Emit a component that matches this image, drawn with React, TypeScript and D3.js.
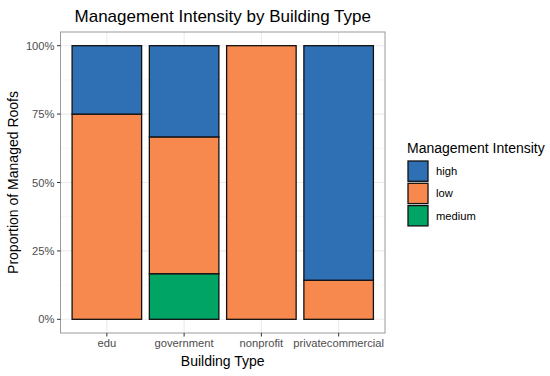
import { useEffect, useRef } from 'react';
import * as d3 from 'd3';

const buildingTypes = ['edu', 'government', 'nonprofit', 'privatecommercial'];
const intensityLevels = ['high', 'low', 'medium'];
// counts of managed roofs per building type and intensity
const highCounts = [1, 2, 0, 6];
const lowCounts = [3, 3, 4, 1];
const mediumCounts = [0, 1, 0, 0];
const yTicks = [0, 0.25, 0.5, 0.75, 1];
const yMinorTicks = [0.125, 0.375, 0.625, 0.875];

const colors: Record<string, string> = {
  high: '#2F6FB3',
  low: '#F7894F',
  medium: '#00A565',
};

const W = 550;
const H = 376;
const FONT = '"Liberation Sans", Arial, Helvetica, sans-serif';

const App = () => {
  const svgRef = useRef<SVGSVGElement>(null);

  useEffect(() => {
    const svg = d3.select(svgRef.current);
    svg.selectAll('*').remove();

    const panel = { left: 60.5, top: 32, right: 385, bottom: 333 };
    const pw = panel.right - panel.left;
    const ph = panel.bottom - panel.top;

    const rows = buildingTypes.map((b, i) => ({
      type: b,
      high: highCounts[i],
      low: lowCounts[i],
      medium: mediumCounts[i],
    }));

    // ggplot stacks the first level on top, so medium goes at the bottom
    const stack = d3.stack<any>()
      .keys(['medium', 'low', 'high'])
      .offset(d3.stackOffsetExpand);
    const series = stack(rows);

    // discrete scale with 0.6 expansion on each side
    const xPos = d3.scaleLinear()
      .domain([0.4, buildingTypes.length + 0.6])
      .range([panel.left, panel.right]);
    const barW = (xPos(1.9) - xPos(1));

    const yScale = d3.scaleLinear()
      .domain([-0.05, 1.05])
      .range([panel.bottom, panel.top]);

    const g = svg.append('g');

    // panel background
    g.append('rect')
      .attr('x', panel.left).attr('y', panel.top)
      .attr('width', pw).attr('height', ph)
      .attr('fill', '#fff');

    // minor grid
    g.selectAll('.minor')
      .data(yMinorTicks)
      .enter().append('line')
      .attr('x1', panel.left).attr('x2', panel.right)
      .attr('y1', d => yScale(d)).attr('y2', d => yScale(d))
      .attr('stroke', '#F2F2F2').attr('stroke-width', 0.6);

    // major grid
    g.selectAll('.major')
      .data(yTicks)
      .enter().append('line')
      .attr('x1', panel.left).attr('x2', panel.right)
      .attr('y1', d => yScale(d)).attr('y2', d => yScale(d))
      .attr('stroke', '#EBEBEB').attr('stroke-width', 1.1);

    g.selectAll('.vgrid')
      .data(buildingTypes)
      .enter().append('line')
      .attr('x1', (d, i) => xPos(i + 1)).attr('x2', (d, i) => xPos(i + 1))
      .attr('y1', panel.top).attr('y2', panel.bottom)
      .attr('stroke', '#EBEBEB').attr('stroke-width', 1.1);

    // bars
    series.forEach(s => {
      g.selectAll(null)
        .data(s.filter(d => d[1] - d[0] > 0))
        .enter().append('rect')
        .attr('x', d => xPos(buildingTypes.indexOf(d.data.type) + 1) - barW / 2)
        .attr('y', d => yScale(d[1]))
        .attr('width', barW)
        .attr('height', d => yScale(d[0]) - yScale(d[1]))
        .attr('fill', colors[s.key])
        .attr('stroke', '#111')
        .attr('stroke-width', 1.3);
    });

    // panel border
    g.append('rect')
      .attr('x', panel.left).attr('y', panel.top)
      .attr('width', pw).attr('height', ph)
      .attr('fill', 'none')
      .attr('stroke', '#9A9A9A').attr('stroke-width', 1);

    // y axis ticks + labels
    yTicks.forEach(t => {
      g.append('line')
        .attr('x1', panel.left - 3.5).attr('x2', panel.left)
        .attr('y1', yScale(t)).attr('y2', yScale(t))
        .attr('stroke', '#333').attr('stroke-width', 1);
      g.append('text')
        .attr('x', panel.left - 6)
        .attr('y', yScale(t))
        .attr('dy', '0.36em')
        .attr('text-anchor', 'end')
        .style('font-family', FONT)
        .style('font-size', '11.2px')
        .style('fill', '#4D4D4D')
        .text(d3.format('.0%')(t));
    });

    // x axis ticks + labels
    buildingTypes.forEach((b, i) => {
      const x = xPos(i + 1);
      g.append('line')
        .attr('x1', x).attr('x2', x)
        .attr('y1', panel.bottom).attr('y2', panel.bottom + 3.5)
        .attr('stroke', '#333').attr('stroke-width', 1);
      g.append('text')
        .attr('x', x)
        .attr('y', panel.bottom + 14)
        .attr('text-anchor', 'middle')
        .style('font-family', FONT)
        .style('font-size', '11.2px')
        .style('fill', '#4D4D4D')
        .text(b);
    });

    // axis titles
    g.append('text')
      .attr('x', (panel.left + panel.right) / 2)
      .attr('y', 366)
      .attr('text-anchor', 'middle')
      .style('font-family', FONT)
      .style('font-size', '14px')
      .style('fill', '#000')
      .text('Building Type');

    g.append('text')
      .attr('transform', `translate(18,${(panel.top + panel.bottom) / 2}) rotate(-90)`)
      .attr('text-anchor', 'middle')
      .style('font-family', FONT)
      .style('font-size', '14px')
      .style('fill', '#000')
      .text('Proportion of Managed Roofs');

    // title
    g.append('text')
      .attr('x', (panel.left + panel.right) / 2)
      .attr('y', 22)
      .attr('text-anchor', 'middle')
      .style('font-family', FONT)
      .style('font-size', '17px')
      .style('fill', '#000')
      .text('Management Intensity by Building Type');

    // legend
    const legend = g.append('g').attr('transform', 'translate(407,0)');
    legend.append('text')
      .attr('x', 0).attr('y', 153)
      .style('font-family', FONT)
      .style('font-size', '14px')
      .style('fill', '#000')
      .text('Management Intensity');

    const keyH = 22.3;
    const items = legend.selectAll('.legend-item')
      .data(intensityLevels)
      .enter().append('g')
      .attr('transform', (d, i) => `translate(0,${160 + i * keyH})`);

    items.append('rect')
      .attr('x', 1).attr('y', 1)
      .attr('width', 20).attr('height', keyH - 2)
      .attr('fill', d => colors[d])
      .attr('stroke', '#111')
      .attr('stroke-width', 1.3);

    items.append('text')
      .attr('x', 29)
      .attr('y', keyH / 2)
      .attr('dy', '0.36em')
      .style('font-family', FONT)
      .style('font-size', '11.2px')
      .style('fill', '#000')
      .text(d => d);
  }, []);

  return (
    <svg
      ref={svgRef}
      width={W}
      height={H}
      style={{ position: 'absolute', left: 0, top: 0, background: '#fff' }}
    />
  );
};

export default App;
